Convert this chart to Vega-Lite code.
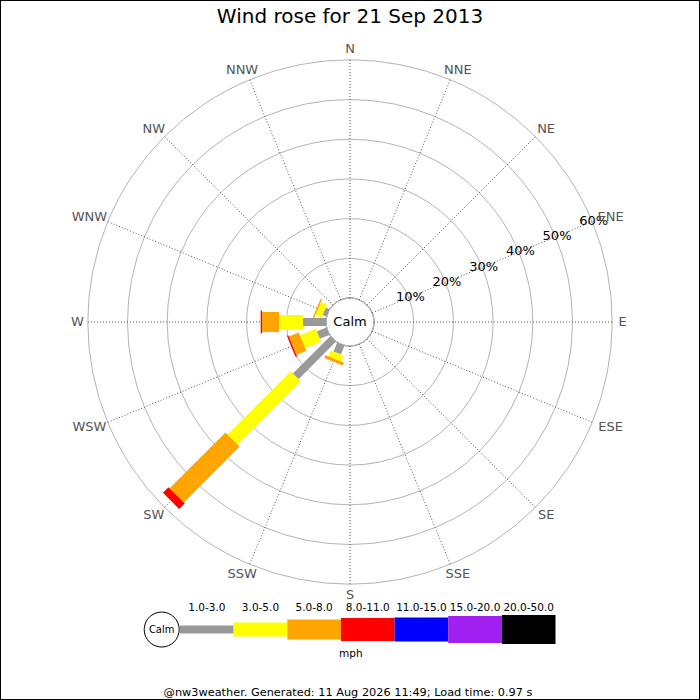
{
  "$schema": "https://vega.github.io/schema/vega-lite/v6.json",
  "width": 700,
  "height": 700,
  "padding": 0,
  "autosize": {"type": "none"},
  "background": "white",
  "config": {
    "view": {"stroke": "black", "strokeWidth": 2},
    "axis": {"disable": true},
    "legend": {"disable": true},
    "text": {"font": "DejaVu Sans"}
  },
  "datasets": {
    "bars": [
      {"dir": "SW", "deg": 225, "band": "1.0-3.0", "lo": 1, "pct": 13.3},
      {"dir": "SW", "deg": 225, "band": "3.0-5.0", "lo": 3, "pct": 22.5},
      {"dir": "SW", "deg": 225, "band": "5.0-8.0", "lo": 5, "pct": 19.9},
      {"dir": "SW", "deg": 225, "band": "8.0-11.0", "lo": 8, "pct": 2.0},
      {"dir": "W", "deg": 270, "band": "1.0-3.0", "lo": 1, "pct": 5.8},
      {"dir": "W", "deg": 270, "band": "3.0-5.0", "lo": 3, "pct": 6.0},
      {"dir": "W", "deg": 270, "band": "5.0-8.0", "lo": 5, "pct": 4.3},
      {"dir": "W", "deg": 270, "band": "8.0-11.0", "lo": 8, "pct": 0.35},
      {"dir": "WSW", "deg": 247.5, "band": "1.0-3.0", "lo": 1, "pct": 2.6},
      {"dir": "WSW", "deg": 247.5, "band": "3.0-5.0", "lo": 3, "pct": 4.3},
      {"dir": "WSW", "deg": 247.5, "band": "5.0-8.0", "lo": 5, "pct": 2.7},
      {"dir": "WSW", "deg": 247.5, "band": "8.0-11.0", "lo": 8, "pct": 0.35},
      {"dir": "SSW", "deg": 202.5, "band": "1.0-3.0", "lo": 1, "pct": 2.4},
      {"dir": "SSW", "deg": 202.5, "band": "3.0-5.0", "lo": 3, "pct": 1.6},
      {"dir": "SSW", "deg": 202.5, "band": "5.0-8.0", "lo": 5, "pct": 0.8},
      {"dir": "WNW", "deg": 292.5, "band": "1.0-3.0", "lo": 1, "pct": 1.0},
      {"dir": "WNW", "deg": 292.5, "band": "3.0-5.0", "lo": 3, "pct": 1.65},
      {"dir": "WNW", "deg": 292.5, "band": "5.0-8.0", "lo": 5, "pct": 0.4}
    ],
    "dirs": [
      {"dir": "N", "deg": 0}, {"dir": "NNE", "deg": 22.5}, {"dir": "NE", "deg": 45}, {"dir": "ENE", "deg": 67.5},
      {"dir": "E", "deg": 90}, {"dir": "ESE", "deg": 112.5}, {"dir": "SE", "deg": 135}, {"dir": "SSE", "deg": 157.5},
      {"dir": "S", "deg": 180}, {"dir": "SSW", "deg": 202.5}, {"dir": "SW", "deg": 225}, {"dir": "WSW", "deg": 247.5},
      {"dir": "W", "deg": 270}, {"dir": "WNW", "deg": 292.5}, {"dir": "NW", "deg": 315}, {"dir": "NNW", "deg": 337.5}
    ],
    "rings": [
      {"pct": 0}, {"pct": 10}, {"pct": 20}, {"pct": 30}, {"pct": 40}, {"pct": 50}, {"pct": 60}
    ],
    "bands": [
      {"band": "1.0-3.0", "lo": 1},
      {"band": "3.0-5.0", "lo": 3},
      {"band": "5.0-8.0", "lo": 5},
      {"band": "8.0-11.0", "lo": 8},
      {"band": "11.0-15.0", "lo": 11},
      {"band": "15.0-20.0", "lo": 15},
      {"band": "20.0-50.0", "lo": 20}
    ]
  },
  "resolve": {"scale": {"x": "independent"}},
  "layer": [
    {
      "layer": [
        {
          "data": {"name": "rings"},
          "mark": {"type": "arc", "filled": false, "stroke": "#b4b4b4", "strokeWidth": 1},
          "encoding": {
            "x": {"datum": 0, "type": "quantitative", "scale": {"domain": [-88.16, 88.16], "nice": false, "zero": false}, "axis": null},
            "y": {"datum": 0, "type": "quantitative", "scale": {"domain": [-95.21, 81.11], "nice": false, "zero": false}, "axis": null},
            "theta": {"value": 0},
            "theta2": {"value": 6.2832},
            "radius": {"field": "pct", "type": "quantitative", "stack": null, "scale": {"type": "linear", "domain": [0, 60], "range": [24, 262.2], "zero": false, "nice": false}}
          }
        },
        {
          "data": {"name": "dirs"},
          "transform": [
            {"calculate": "datum.deg * PI / 180", "as": "a"},
            {"calculate": "sin(datum.a) * 6.045", "as": "x0"},
            {"calculate": "cos(datum.a) * 6.045", "as": "y0"},
            {"calculate": "sin(datum.a) * 66.045", "as": "x1"},
            {"calculate": "cos(datum.a) * 66.045", "as": "y1"}
          ],
          "mark": {"type": "rule", "stroke": "#555555", "strokeWidth": 1, "strokeDash": [1, 2]},
          "encoding": {
            "x": {"field": "x0", "type": "quantitative", "scale": {"domain": [-88.16, 88.16], "nice": false, "zero": false}, "axis": null},
            "y": {"field": "y0", "type": "quantitative", "scale": {"domain": [-95.21, 81.11], "nice": false, "zero": false}, "axis": null},
            "x2": {"field": "x1"},
            "y2": {"field": "y1"}
          }
        },
        {
          "data": {"name": "bars"},
          "transform": [
            {"stack": "pct", "groupby": ["dir"], "sort": [{"field": "lo", "order": "ascending"}], "as": ["p0", "p1"]},
            {"calculate": "datum.deg * PI / 180", "as": "a"},
            {"calculate": "sin(datum.a) * (datum.p0 + 6.045)", "as": "x0"},
            {"calculate": "cos(datum.a) * (datum.p0 + 6.045)", "as": "y0"},
            {"calculate": "sin(datum.a) * (datum.p1 + 6.045)", "as": "x1"},
            {"calculate": "cos(datum.a) * (datum.p1 + 6.045)", "as": "y1"}
          ],
          "mark": {"type": "rule", "strokeCap": "butt", "opacity": 1},
          "encoding": {
            "x": {"field": "x0", "type": "quantitative", "scale": {"domain": [-88.16, 88.16], "nice": false, "zero": false}, "axis": null},
            "y": {"field": "y0", "type": "quantitative", "scale": {"domain": [-95.21, 81.11], "nice": false, "zero": false}, "axis": null},
            "x2": {"field": "x1"},
            "y2": {"field": "y1"},
            "color": {
              "field": "band", "type": "nominal", "legend": null,
              "scale": {
                "domain": ["1.0-3.0", "3.0-5.0", "5.0-8.0", "8.0-11.0", "11.0-15.0", "15.0-20.0", "20.0-50.0"],
                "range": ["#999999", "#ffff00", "#ffa500", "#ff0000", "#0000ff", "#a020f0", "#000000"]
              }
            },
            "size": {
              "field": "lo", "type": "quantitative", "legend": null,
              "scale": {"type": "linear", "domain": [1, 3, 5, 8, 11, 15, 20], "range": [8, 14, 20, 23, 24, 27, 29], "zero": false}
            }
          }
        },
        {
          "data": {"name": "rings"},
          "transform": [
            {"filter": "datum.pct > 0"},
            {"calculate": "datum.pct + '%'", "as": "label"},
            {"calculate": "0.92388 * (datum.pct + 6.45)", "as": "lx"},
            {"calculate": "0.38268 * (datum.pct + 6.45)", "as": "ly"}
          ],
          "mark": {"type": "text", "fontSize": 13, "color": "black", "align": "center", "baseline": "middle"},
          "encoding": {
            "x": {"field": "lx", "type": "quantitative", "scale": {"domain": [-88.16, 88.16], "nice": false, "zero": false}, "axis": null},
            "y": {"field": "ly", "type": "quantitative", "scale": {"domain": [-95.21, 81.11], "nice": false, "zero": false}, "axis": null},
            "text": {"field": "label"}
          }
        },
        {
          "data": {"name": "dirs"},
          "transform": [
            {"calculate": "datum.deg * PI / 180", "as": "a"},
            {"calculate": "sin(datum.a) * (67.5 + length(datum.dir) * 1.18)", "as": "lx"},
            {"calculate": "cos(datum.a) * 68.8", "as": "ly"}
          ],
          "mark": {"type": "text", "fontSize": 13, "color": "#555555", "align": "center", "baseline": "middle"},
          "encoding": {
            "x": {"field": "lx", "type": "quantitative", "scale": {"domain": [-88.16, 88.16], "nice": false, "zero": false}, "axis": null},
            "y": {"field": "ly", "type": "quantitative", "scale": {"domain": [-95.21, 81.11], "nice": false, "zero": false}, "axis": null},
            "text": {"field": "dir"}
          }
        },
        {
          "data": {"values": [{"t": "Calm"}]},
          "mark": {"type": "text", "fontSize": 13, "color": "black", "align": "center", "baseline": "middle"},
          "encoding": {
            "x": {"datum": 0, "type": "quantitative", "scale": {"domain": [-88.16, 88.16], "nice": false, "zero": false}, "axis": null},
            "y": {"datum": 0, "type": "quantitative", "scale": {"domain": [-95.21, 81.11], "nice": false, "zero": false}, "axis": null},
            "text": {"field": "t"}
          }
        },
        {
          "data": {"values": [{"t": "Wind rose for 21 Sep 2013"}]},
          "mark": {"type": "text", "fontSize": 20, "color": "black", "align": "center", "baseline": "alphabetic"},
          "encoding": {
            "x": {"datum": 0, "type": "quantitative", "scale": {"domain": [-88.16, 88.16], "nice": false, "zero": false}, "axis": null},
            "y": {"datum": 75.24, "type": "quantitative", "scale": {"domain": [-95.21, 81.11], "nice": false, "zero": false}, "axis": null},
            "text": {"field": "t"}
          }
        },
        {
          "data": {"values": [{"t": "Calm"}]},
          "mark": {"type": "point", "shape": "circle", "size": 1225, "filled": true, "fill": "white", "stroke": "black", "strokeWidth": 1, "opacity": 1},
          "encoding": {
            "x": {"datum": -47.43, "type": "quantitative", "scale": {"domain": [-88.16, 88.16], "nice": false, "zero": false}, "axis": null},
            "y": {"datum": -77.46, "type": "quantitative", "scale": {"domain": [-95.21, 81.11], "nice": false, "zero": false}, "axis": null}
          }
        },
        {
          "data": {"values": [{"t": "Calm"}]},
          "mark": {"type": "text", "fontSize": 10, "color": "black", "align": "center", "baseline": "middle"},
          "encoding": {
            "x": {"datum": -47.43, "type": "quantitative", "scale": {"domain": [-88.16, 88.16], "nice": false, "zero": false}, "axis": null},
            "y": {"datum": -77.46, "type": "quantitative", "scale": {"domain": [-95.21, 81.11], "nice": false, "zero": false}, "axis": null},
            "text": {"field": "t"}
          }
        },
        {
          "data": {"values": [{"t": "mph"}]},
          "mark": {"type": "text", "fontSize": 10.5, "color": "black", "align": "center", "baseline": "middle"},
          "encoding": {
            "x": {"datum": 0.2, "type": "quantitative", "scale": {"domain": [-88.16, 88.16], "nice": false, "zero": false}, "axis": null},
            "y": {"datum": -83.7, "type": "quantitative", "scale": {"domain": [-95.21, 81.11], "nice": false, "zero": false}, "axis": null},
            "text": {"field": "t"}
          }
        },
        {
          "data": {"values": [{"t": "@nw3weather. Generated: 11 Aug 2026 11:49; Load time: 0.97 s"}]},
          "mark": {"type": "text", "fontSize": 11.3, "color": "black", "align": "center", "baseline": "middle"},
          "encoding": {
            "x": {"datum": -0.5, "type": "quantitative", "scale": {"domain": [-88.16, 88.16], "nice": false, "zero": false}, "axis": null},
            "y": {"datum": -93.53, "type": "quantitative", "scale": {"domain": [-95.21, 81.11], "nice": false, "zero": false}, "axis": null},
            "text": {"field": "t"}
          }
        }
      ]
    },
    {
      "layer": [
        {
          "data": {"name": "bands"},
          "mark": {"type": "tick", "orient": "vertical", "thickness": 53.65, "opacity": 1},
          "encoding": {
            "x": {
              "field": "band", "type": "ordinal", "axis": null,
              "scale": {"type": "band", "domain": ["1.0-3.0", "3.0-5.0", "5.0-8.0", "8.0-11.0", "11.0-15.0", "15.0-20.0", "20.0-50.0"], "range": [180, 555.5], "paddingInner": 0, "paddingOuter": 0}
            },
            "y": {"datum": -77.46, "type": "quantitative", "scale": {"domain": [-95.21, 81.11], "nice": false, "zero": false}, "axis": null},
            "color": {
              "field": "band", "type": "nominal", "legend": null,
              "scale": {
                "domain": ["1.0-3.0", "3.0-5.0", "5.0-8.0", "8.0-11.0", "11.0-15.0", "15.0-20.0", "20.0-50.0"],
                "range": ["#999999", "#ffff00", "#ffa500", "#ff0000", "#0000ff", "#a020f0", "#000000"]
              }
            },
            "size": {
              "field": "lo", "type": "quantitative", "legend": null,
              "scale": {"type": "linear", "domain": [1, 3, 5, 8, 11, 15, 20], "range": [8, 14, 20, 23, 24, 27, 29], "zero": false}
            }
          }
        },
        {
          "data": {"name": "bands"},
          "mark": {"type": "text", "fontSize": 10.5, "color": "black", "align": "center", "baseline": "middle"},
          "encoding": {
            "x": {"field": "band", "type": "ordinal", "axis": null},
            "y": {"datum": -72.04, "type": "quantitative", "scale": {"domain": [-95.21, 81.11], "nice": false, "zero": false}, "axis": null},
            "text": {"field": "band"}
          }
        }
      ]
    }
  ]
}
